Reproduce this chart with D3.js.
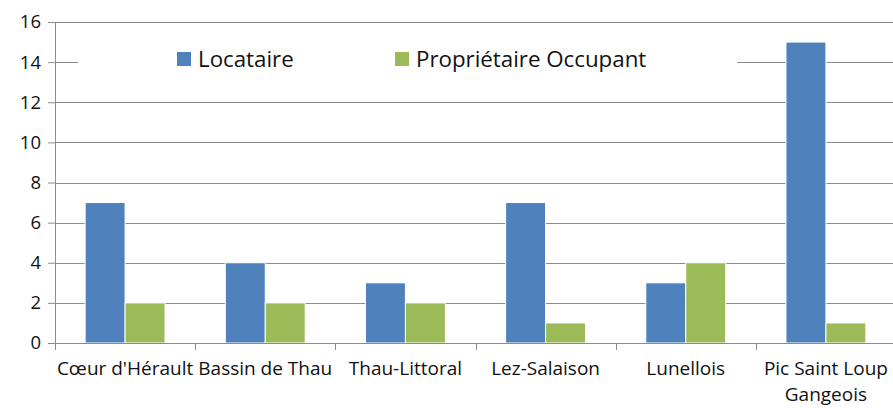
<!DOCTYPE html>
<html>
<head>
<meta charset="utf-8">
<script src="https://cdn.jsdelivr.net/npm/d3@7"></script>
<style>
  body { margin: 0; background: #fff; }
  text { font-family: "Open Sans", Lato, sans-serif; fill: #111; }
</style>
</head>
<body>
<svg id="chart"></svg>
<script>
// data
const categories = ["Cœur d'Hérault", "Bassin de Thau", "Thau-Littoral", "Lez-Salaison", "Lunellois", "Pic Saint Loup Gangeois"];
const series = ["Locataire", "Propriétaire Occupant"];
const locataire = [7, 4, 3, 7, 3, 15];
const proprietaire = [2, 2, 2, 1, 4, 1];
const yTicks = [0, 2, 4, 6, 8, 10, 12, 14, 16];

const width = 893;
const height = 408;
const margin = { left: 55, right: -3, top: 22, bottom: 65 };
const colors = ["#4F81BD", "#9BBB59"];

const svg = d3.select('svg#chart').attr('width', width).attr('height', height);
const visWidth = width - margin.left - margin.right;
const visHeight = height - margin.top - margin.bottom;
const g = svg.append('g').attr('transform', 'translate(' + margin.left + ',' + margin.top + ')');

const x = d3.scaleBand().domain(categories).range([0, visWidth]).paddingInner(0.43).paddingOuter(0.215);
const xBand = d3.scaleBand().domain(categories).range([0, visWidth]);
const x1 = d3.scaleBand().domain(series).range([0, x.bandwidth()]);
const y = d3.scaleLinear().domain([0, 16]).range([visHeight, 0]);

// gridlines
g.append('g').selectAll('line').data(yTicks.filter(d => d > 0)).enter().append('line')
  .attr('x1', 0).attr('x2', visWidth)
  .attr('y1', d => Math.round(y(d)) + 0.5).attr('y2', d => Math.round(y(d)) + 0.5)
  .attr('stroke', '#8c8c8c').attr('stroke-width', 1);

// y axis
const yAxis = g.append('g').call(d3.axisLeft(y).tickValues(yTicks).tickSize(7).tickPadding(7));
yAxis.select('.domain').attr('stroke', '#8c8c8c');
yAxis.selectAll('.tick line').attr('stroke', '#8c8c8c');
yAxis.selectAll('text').attr('font-size', 18.5).attr('fill', '#111').attr('font-family', '"Open Sans", sans-serif');

// bars
const rows = categories.map((c, i) => ({ cat: c, vals: [locataire[i], proprietaire[i]] }));
const grp = g.append('g').selectAll('g').data(rows).enter().append('g')
  .attr('transform', d => 'translate(' + x(d.cat) + ',0)');
grp.selectAll('rect').data(d => d.vals.map((v, k) => ({ s: series[k], v: v, k: k }))).enter().append('rect')
  .attr('x', d => x1(d.s))
  .attr('width', x1.bandwidth())
  .attr('y', d => y(d.v))
  .attr('height', d => visHeight - y(d.v))
  .attr('fill', d => colors[d.k])
  .attr('stroke', '#fff').attr('stroke-width', 1);

// x axis
const xAxis = g.append('g').attr('transform', 'translate(0,' + visHeight + ')');
xAxis.append('line').attr('x1', 0).attr('x2', visWidth).attr('y1', 0.5).attr('y2', 0.5).attr('stroke', '#8c8c8c');
xAxis.selectAll('line.tk').data(categories.concat(['end'])).enter().append('line')
  .attr('class', 'tk')
  .attr('x1', (d, i) => Math.round(i * xBand.bandwidth()) + 0.5)
  .attr('x2', (d, i) => Math.round(i * xBand.bandwidth()) + 0.5)
  .attr('y1', 0).attr('y2', 7).attr('stroke', '#8c8c8c');
// one text per line so wrapped label lines stay separate
categories.forEach(d => {
  const parts = d === "Pic Saint Loup Gangeois" ? ["Pic Saint Loup", "Gangeois"] : [d];
  parts.forEach((p, i) => {
    xAxis.append('text')
      .attr('class', 'lbl')
      .attr('text-anchor', 'middle')
      .attr('font-size', 19)
      .attr('x', xBand(d) + xBand.bandwidth() / 2)
      .attr('y', 32 + i * 26)
      .text(p);
  });
});

// legend
const legend = svg.append('g');
legend.append('rect').attr('x', 78).attr('y', 42).attr('width', 659).attr('height', 40).attr('fill', '#fff');
const legendPos = [177, 395];
series.forEach((s, i) => {
  legend.append('rect').attr('x', legendPos[i]).attr('y', 52).attr('width', 14).attr('height', 14).attr('fill', colors[i]);
  legend.append('text').attr('x', legendPos[i] + 21).attr('y', 67).attr('font-size', 22.3).text(s);
});
</script>
</body>
</html>
